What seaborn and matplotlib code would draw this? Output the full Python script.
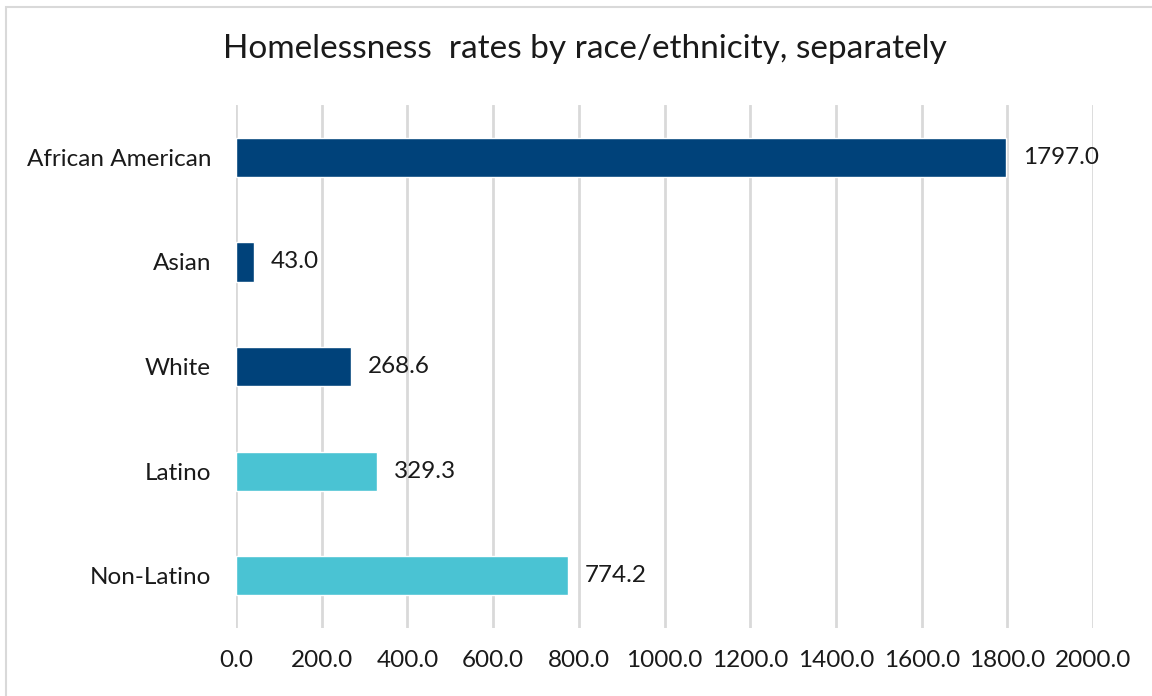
import pandas as pd
import matplotlib.pyplot as plt
import seaborn as sns

# data
groups = ["African American", "Asian", "White", "Latino", "Non-Latino"]
rates = [1797.0, 43.0, 268.6, 329.3, 774.2]
kind = ["race", "race", "race", "ethnicity", "ethnicity"]
xticks = [0, 200, 400, 600, 800, 1000, 1200, 1400, 1600, 1800, 2000]

df = pd.DataFrame({"group": groups, "rate": rates, "kind": kind})

sns.set_theme(style="white")
plt.rcParams["font.family"] = ["Lato", "DejaVu Sans"]

fig = plt.figure(figsize=(11.52, 6.96), dpi=100)
ax = fig.add_axes([0.2049, 0.0977, 0.744, 0.7513])

sns.barplot(
    data=df, x="rate", y="group", hue="kind",
    palette={"race": "#00427A", "ethnicity": "#4AC3D3"},
    saturation=1, dodge=False, width=0.375, legend=False, ax=ax,
)

for c in ax.containers:
    ax.bar_label(c, fmt="%.1f", padding=12, fontsize=17.5, color="#1a1a1a")

ax.set_xlim(0, 2000)
ax.set_ylim(4.5, -0.5)
ax.set_xticks(xticks)
ax.set_xticklabels([f"{t:.1f}" for t in xticks])
ax.xaxis.grid(True, color="#D9D9D9", linewidth=2)
ax.set_axisbelow(True)
for s in ax.spines.values():
    s.set_visible(False)
ax.tick_params(axis="x", length=0, pad=16, labelsize=17.5, labelcolor="#1a1a1a")
ax.tick_params(axis="y", length=0, pad=18, labelsize=17.5, labelcolor="#1a1a1a")
ax.set_xlabel("")
ax.set_ylabel("")

fig.text(0.508, 0.93, "Homelessness  rates by race/ethnicity, separately",
         ha="center", va="center", fontsize=24, color="#1a1a1a")

# light border round the chart area
fig.patches.append(plt.Rectangle((0.005, -0.01), 1.2, 1.0, transform=fig.transFigure,
                                 fill=False, edgecolor="#D9D9D9", linewidth=1.5))

fig.savefig("out.png", dpi=100)
